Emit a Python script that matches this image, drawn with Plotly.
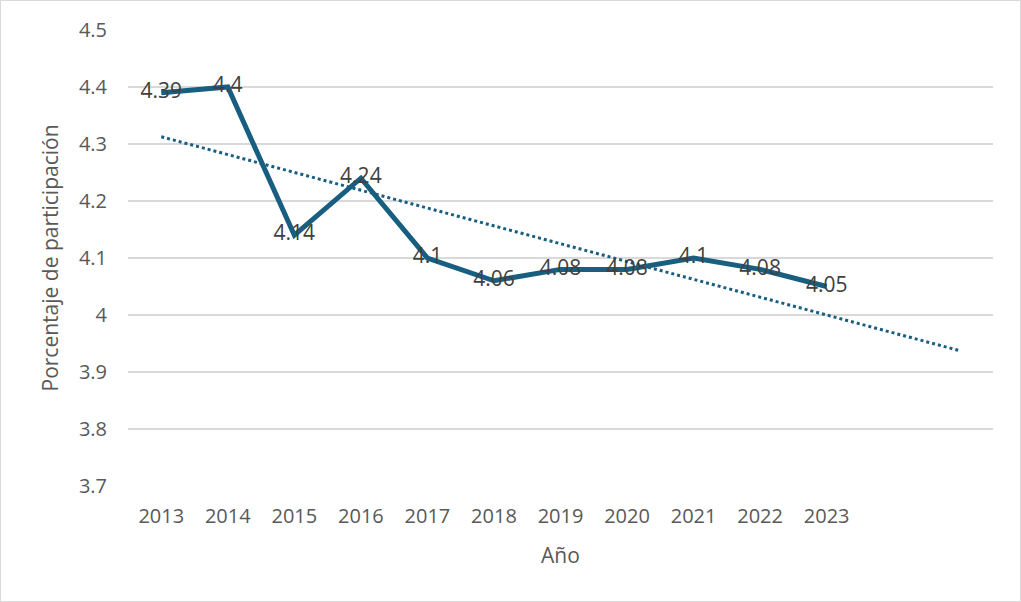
import numpy as np
import plotly.graph_objects as go

years = ["2013", "2014", "2015", "2016", "2017", "2018", "2019", "2020", "2021", "2022", "2023"]
values = [4.39, 4.40, 4.14, 4.24, 4.10, 4.06, 4.08, 4.08, 4.10, 4.08, 4.05]
labels = ["4.39", "4.4", "4.14", "4.24", "4.1", "4.06", "4.08", "4.08", "4.1", "4.08", "4.05"]
y_ticks = [3.7, 3.8, 3.9, 4.0, 4.1, 4.2, 4.3, 4.4, 4.5]
y_tick_text = ["3.7", "3.8", "3.9", "4", "4.1", "4.2", "4.3", "4.4", "4.5"]
forecast_periods = 2

x = np.arange(len(years))
slope, intercept = np.polyfit(x, values, 1)
xt = np.arange(len(years) + forecast_periods)
trend = intercept + slope * xt

color = "#185E80"
txt = "#404040"
font = "Open Sans"

fig = go.Figure()
fig.add_trace(go.Scatter(x=xt, y=trend, mode="lines",
                         line=dict(color=color, width=3, dash="dot"),
                         hoverinfo="skip", showlegend=False))
fig.add_trace(go.Scatter(x=x, y=values, mode="lines+text", text=labels,
                         textposition="middle center",
                         textfont=dict(color=txt, size=21, family=font),
                         line=dict(color=color, width=5),
                         showlegend=False))

W, H = 1021, 602
ml, mr, mt, mb = 128, 28, 30, 116
pw, ph = W - ml - mr, H - mt - mb

fig.update_layout(
    width=W, height=H,
    margin=dict(l=ml, r=mr, t=mt, b=mb),
    paper_bgcolor="white", plot_bgcolor="white",
    font=dict(family=font, color="#595959", size=20),
    xaxis=dict(range=[-0.5, len(xt) - 0.5], tickvals=list(x), ticktext=years,
               showgrid=False, zeroline=False, ticks="", showline=False,
               ticklabelstandoff=16,
               tickfont=dict(size=20, color="#595959"),
               title=dict(text="Año", font=dict(size=21, color="#595959"), standoff=20)),
    yaxis=dict(range=[3.7, 4.5], tickvals=y_ticks, ticktext=y_tick_text,
               showgrid=True, gridcolor="#D9D9D9", gridwidth=1.5, zeroline=False,
               ticks="", showline=False, ticklabelstandoff=20,
               tickfont=dict(size=20, color="#595959"),
               title=dict(text="Porcentaje de participación", font=dict(size=21, color="#595959"), standoff=14)),
    shapes=[dict(type="rect", xref="paper", yref="paper",
                 x0=(0.5 - ml) / pw, x1=(W - 0.5 - ml) / pw,
                 y0=(-mb + 0.5) / ph, y1=(ph + mt - 0.5) / ph,
                 line=dict(color="#D9D9D9", width=1), layer="below")],
)

fig.write_html("out.html")
